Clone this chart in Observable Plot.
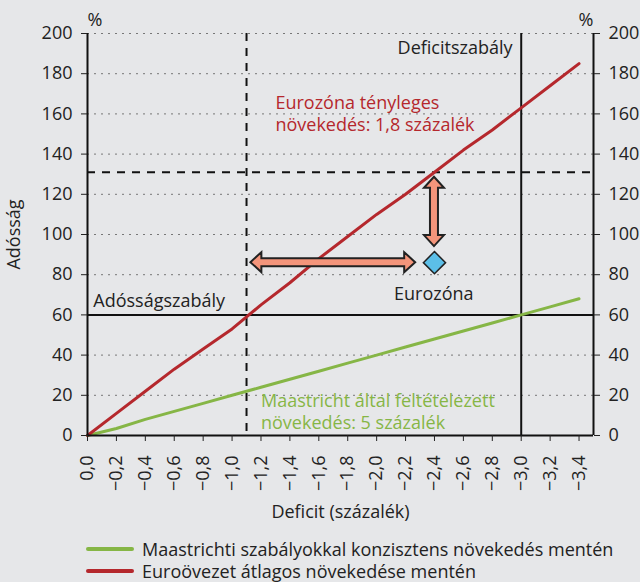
<!DOCTYPE html>
<html><head><meta charset="utf-8">
<script src="https://cdn.jsdelivr.net/npm/d3@7"></script>
<script src="https://cdn.jsdelivr.net/npm/@observablehq/plot@0.6"></script>
<style>
body{margin:0;background:#e6e7e9;}
#chart{width:640px;height:582px;background:#e6e7e9;font-family:"Open Sans",sans-serif;color:#222;overflow:hidden;}
.legend{padding:8px 0 0 86px;font-size:18px;line-height:22px;}
.row{display:flex;align-items:center;white-space:nowrap;}
.sw{display:inline-block;width:48px;height:4px;margin-right:8px;border-radius:2px;}
</style></head><body><div id="chart"></div><script>
// ---- data ----
const deficit   = [0, -0.2, -0.4, -0.6, -0.8, -1.0, -1.2, -1.4, -1.6, -1.8, -2.0, -2.2, -2.4, -2.6, -2.8, -3.0, -3.2, -3.4];
const euroDebt  = [0, 11, 22, 33, 43, 53, 65, 76, 88, 99, 110, 120, 131, 142, 152, 163, 174, 185];
const maastDebt = [0, 3.5, 8, 12, 16, 20, 24, 28, 32, 36, 40, 44, 48, 52, 56, 60, 64, 68];
const yTicks    = [0, 20, 40, 60, 80, 100, 120, 140, 160, 180, 200];
const yDomain   = [0, 200];
const deficitRule = [-3.0];
const debtRule    = [60];
const dashedX     = [-1.1];
const dashedY     = [131];
const eurozone    = [{x: -2.4, y: 86}];
const arrows      = [{x1: -1.13, y1: 86, x2: -2.27, y2: 86}, {x1: -2.4, y1: 128.5, x2: -2.4, y2: 94}];
const notes = [
  {x: -2.94, y: 193.5, t: "Deficitszabály", c: "#222", a: "end"},
  {x: -1.30, y: 160.5, t: "Eurozóna tényleges\nnövekedés: 1,8 százalék", c: "#b5282d", a: "start"},
  {x: -0.04, y: 67.5, t: "Adósságszabály", c: "#222", a: "start"},
  {x: -2.12, y: 71, t: "Eurozóna", c: "#222", a: "start"},
  {x: -1.20, y: 12.3, t: "Maastricht által feltételezett\nnövekedés: 5 százalék", c: "#86b646", a: "start"}
];
const series = [
  {name: "Maastrichti szabályokkal konzisztens növekedés mentén", color: "#86b646", values: maastDebt},
  {name: "Euroövezet átlagos növekedése mentén", color: "#b5282d", values: euroDebt}
];

const fmt = d => (d < 0 ? "\u2212" : "") + Math.abs(d).toFixed(1).replace(".", ",");

function arrowMark(index, scales) {
  const {x, y} = scales;
  const g = d3.create("svg:g");
  for (const a of arrows) {
    const X1 = x(a.x1), Y1 = y(a.y1), X2 = x(a.x2), Y2 = y(a.y2);
    const len = Math.hypot(X2 - X1, Y2 - Y1), ang = Math.atan2(Y2 - Y1, X2 - X1) * 180 / Math.PI;
    const hl = 11, hw = 10, sw = 4;
    const pts = [[0,0],[hl,-hw],[hl,-sw],[len-hl,-sw],[len-hl,-hw],[len,0],[len-hl,hw],[len-hl,sw],[hl,sw],[hl,hw]];
    g.append("polygon")
      .attr("points", pts.map(p => p.join(",")).join(" "))
      .attr("transform", `translate(${X1},${Y1}) rotate(${ang})`)
      .attr("fill", "#f4957b").attr("stroke", "#222").attr("stroke-width", 2);
  }
  return g.node();
}

const textOpts = {x: "x", y: "y", text: "t", fill: "c", fontSize: 18, lineHeight: 1.25};

const plot = Plot.plot({
  width: 640, height: 530,
  marginLeft: 87, marginRight: 47, marginTop: 33, marginBottom: 95,
  style: {fontFamily: "'Open Sans', sans-serif", fontSize: "18px", background: "#e6e7e9", color: "#222"},
  x: {domain: [0, -3.5]},
  y: {domain: yDomain},
  marks: [
    Plot.ruleY(yTicks.filter(d => d > 0), {stroke: "#777", strokeDasharray: "2,5", strokeWidth: 1}),
    Plot.ruleX(dashedX, {stroke: "#111", strokeWidth: 2, strokeDasharray: "8,7"}),
    Plot.ruleY(dashedY, {stroke: "#111", strokeWidth: 2, strokeDasharray: "8,7"}),
    Plot.ruleX(deficitRule, {stroke: "#111", strokeWidth: 2}),
    Plot.ruleY(debtRule, {stroke: "#111", strokeWidth: 2}),
    ...series.map(s => Plot.line(deficit.map((d, i) => ({x: d, y: s.values[i]})), {x: "x", y: "y", stroke: s.color, strokeWidth: 3})),
    arrowMark,
    Plot.dot(eurozone, {x: "x", y: "y", symbol: "diamond2", r: 10, fill: "#5cbfe8", stroke: "#222", strokeWidth: 1.5}),
    Plot.text(notes.filter(n => n.a === "start"), {...textOpts, textAnchor: "start"}),
    Plot.text(notes.filter(n => n.a === "end"), {...textOpts, textAnchor: "end"}),
    Plot.ruleY([0], {stroke: "#111", strokeWidth: 2}),
    Plot.ruleX([0, -3.5], {stroke: "#111", strokeWidth: 2}),
    Plot.axisY({anchor: "left", ticks: yTicks, tickSize: 6, tickPadding: 9, fontSize: 18,
                label: "Adósság", labelAnchor: "center", labelArrow: "none", labelOffset: 80}),
    Plot.axisY({anchor: "right", ticks: yTicks, tickSize: 6, tickPadding: 9, fontSize: 18, label: null}),
    Plot.axisX({ticks: deficit, tickFormat: fmt, tickRotate: -90, tickSize: 6, tickPadding: 14, fontSize: 18, label: null}),
    Plot.text(["%"], {frameAnchor: "top-left", textAnchor: "start", dy: -20, fontSize: 18}),
    Plot.text(["%"], {frameAnchor: "top-right", textAnchor: "end", dy: -20, fontSize: 18}),
    Plot.text(["Deficit (százalék)"], {frameAnchor: "bottom", dy: 82, fontSize: 18})
  ]
});
const root = document.getElementById("chart");
root.appendChild(plot);
const leg = document.createElement("div");
leg.className = "legend";
for (const s of series) {
  const r = document.createElement("div");
  r.className = "row";
  r.innerHTML = `<span class="sw" style="background:${s.color}"></span><span>${s.name}</span>`;
  leg.appendChild(r);
}
root.appendChild(leg);
</script></body></html>
